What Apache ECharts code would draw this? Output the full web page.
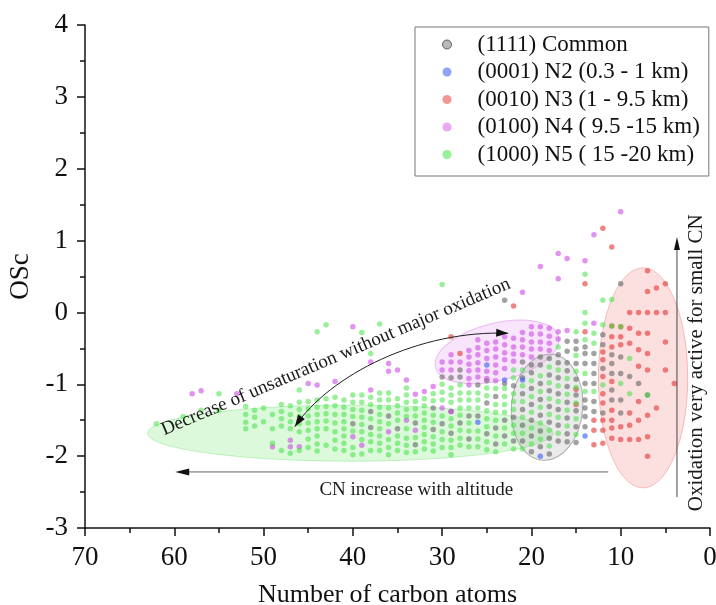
<!DOCTYPE html>
<html><head><meta charset="utf-8">
<script src="https://cdn.jsdelivr.net/npm/echarts@6/dist/echarts.min.js"></script>
<style>html,body{margin:0;padding:0;background:#fff}#c{width:716px;height:605px}</style>
</head><body><div id="c"></div>
<script>
const FONT = 'Liberation Serif';
const seriesNames = ['(1111) Common', '(0001) N2 (0.3 - 1 km)', '(0010) N3 (1 - 9.5 km)', '(0100) N4 ( 9.5 -15 km)', '(1000) N5 ( 15 -20 km)'];

// columns: [carbon number, [OSc values...]]
const commonCols = [
  [40, [-1.55]], [38, [-1.60, -1.38]], [36, [-1.44]], [35, [-1.62]], [33, [-1.54, -1.84]], [31, [-1.63, -1.33]],
  [30, [-0.90, -1.55]], [29, [-0.91, -1.38, -1.68]], [28, [-0.80, -0.90, -1.54]], [27, [-1.44, -1.76]],
  [26, [-1.01, -1.44]], [25, [-0.95, -1.26, -1.69]], [24, [-1.17, -1.61, -1.83]], [23, [0.17, -0.99, -1.50, -1.72]],
  [22, [-1.02, -1.46, -1.79]],
  [21, [-0.69, -0.91, -1.13, -1.35, -1.57, -1.79]],
  [20, [-0.73, -0.84, -1.06, -1.28, -1.50, -1.72, -1.94]],
  [19, [-0.62, -0.73, -0.99, -1.21, -1.43, -1.65, -1.87]],
  [18, [-0.64, -0.87, -1.09, -1.31, -1.53, -1.75, -1.97]],
  [17, [-0.59, -0.70, -0.91, -1.13, -1.35, -1.57, -1.79]],
  [16, [-0.40, -0.54, -0.70, -0.81, -1.03, -1.25, -1.47, -1.69, -1.80]],
  [15, [-0.40, -0.51, -0.71, -0.93, -1.15, -1.37, -1.59, -1.81]],
  [14, [-0.48, -0.57, -0.71, -0.99, -1.22, -1.33, -1.45, -1.59]],
  [13, [-0.57, -0.71, -0.85, -0.99, -1.24, -1.38]],
  [12, [-0.31, -0.45, -0.78, -1.40]],
  [11, [-0.59, -0.71, -0.85, -1.08, -1.22]],
  [10, [0.40, -0.62, -0.85, -1.22, -1.40]],
  [9, [-0.89]], [8, [-0.99]], [7, [-1.15]]
];
const n2Cols = [
  [25, [-0.73]], [23, [-0.94]], [21, [-0.94]], [26, [-1.53]], [19, [-2.00]], [14, [-1.72]]
];
const n3Cols = [
  [29, [-0.34]], [28, [-0.57]], [22, [0.09]], [15, [-1.07, -1.28]], [14, [0.40, -0.27]], [13, [-1.50, -1.64, -1.84]],
  [12, [1.17, -0.55, -0.66, -0.89, -1.13, -1.26, -1.50, -1.64, -1.82]],
  [11, [0.91, -0.19, -0.34, -0.48, -0.96, -1.36, -1.50, -1.61, -1.75]],
  [10, [-0.20, -0.34, -0.45, -1.59, -1.77]],
  [9, [0.00, -0.22, -0.43, -1.40, -1.57, -1.77]],
  [8, [0.00, -0.29, -0.52, -0.75, -1.24, -1.50, -1.77]],
  [7, [0.58, 0.29, 0.00, -0.29, -0.57, -0.80, -1.43, -1.73, -2.00]],
  [6, [0.34, 0.00, -1.33]],
  [5, [0.40, 0.00, -0.41, -0.80]],
  [4, [-0.99]]
];
const n4Cols = [
  [58, [-1.13]], [57, [-1.09]], [53, [-1.13]], [49, [-1.87]], [47, [-1.78, -1.87]], [46, [-1.87]],
  [45, [-0.99]], [44, [-1.01]], [42, [-0.96]], [40, [-0.20, -1.73]], [39, [-1.85]], [38, [-0.69, -1.08]],
  [36, [-0.71, -0.82, -1.66]], [35, [-0.80]], [34, [-0.94, -1.50]], [33, [-1.14, -1.64]], [32, [-1.10]], [31, [-1.03]],
  [30, [-0.69, -0.80, -1.33]],
  [29, [-0.59, -0.69, -0.80, -1.38]],
  [28, [-0.69]],
  [27, [-0.53, -0.62, -0.72, -0.81, -0.92, -1.01]],
  [26, [-0.38, -0.49, -0.59, -0.70, -0.80, -0.90]],
  [25, [-0.43, -0.53, -0.64, -0.82, -0.92]],
  [24, [-0.41, -0.51, -0.62, -0.73, -0.84, -0.95]],
  [23, [-0.34, -0.45, -0.56, -0.66, -0.78]],
  [22, [-0.36, -0.48, -0.58, -0.68]],
  [21, [0.28, -0.28, -0.38, -0.48, -0.59]],
  [20, [-0.20, -0.30, -0.41, -0.51, -0.62]],
  [19, [0.64, -0.20, -0.30, -0.41, -0.51]],
  [18, [-0.22, -0.33, -0.43, -0.53]],
  [17, [0.82, 0.47, -0.27, -0.37]],
  [16, [0.75, -0.25]],
  [14, [0.72]],
  [13, [1.08, -0.15]],
  [10, [1.40]]
];
const n5Cols = [
  [62, [-1.55]], [59, [-1.45]], [57, [-1.36]], [55, [-1.13, -1.36]],
  [52, [-1.31, -1.42, -1.53, -1.62]],
  [51, [-1.36, -1.46, -1.58]],
  [50, [-1.33, -1.52]],
  [49, [-1.42, -1.62, -1.82]],
  [48, [-1.28, -1.38, -1.48, -1.58, -1.92]],
  [47, [-1.30, -1.42, -1.52, -1.62, -1.96]],
  [46, [-1.08, -1.25, -1.35, -1.45, -1.55, -1.66, -1.92]],
  [45, [-1.24, -1.34, -1.44, -1.54, -1.64, -1.76, -1.88]],
  [44, [-0.27, -1.22, -1.32, -1.42, -1.52, -1.62, -1.72, -1.83, -1.93]],
  [43, [-0.17, -1.20, -1.31, -1.41, -1.51, -1.62, -1.85]],
  [42, [-1.18, -1.30, -1.42, -1.54, -1.66, -1.78, -1.90]],
  [41, [-1.22, -1.32, -1.42, -1.52, -1.62, -1.72, -1.82, -1.92]],
  [40, [-1.15, -1.25, -1.35, -1.45, -1.65, -1.88, -1.98]],
  [39, [-0.28, -1.15, -1.25, -1.36, -1.46, -1.56, -1.66, -1.77, -1.97]],
  [38, [-0.57, -1.18, -1.28, -1.48, -1.70, -1.80, -1.92]],
  [37, [-0.16, -1.12, -1.22, -1.32, -1.42, -1.52, -1.62, -1.72, -1.82, -1.92]],
  [36, [-1.12, -1.22, -1.33, -1.55, -1.77, -1.88, -1.98]],
  [35, [-1.20, -1.30, -1.40, -1.50, -1.72, -1.82, -1.92]],
  [34, [-1.05, -1.15, -1.25, -1.35, -1.45, -1.62, -1.75, -1.85, -1.95]],
  [33, [-1.24, -1.34, -1.44, -1.74, -1.94]],
  [32, [-1.20, -1.30, -1.40, -1.50, -1.60, -1.70, -1.80, -1.90]],
  [31, [-1.13, -1.23, -1.43, -1.53, -1.73, -1.83, -1.93]],
  [30, [0.39, -1.00, -1.11, -1.22, -1.44, -1.66, -1.77, -1.88]],
  [29, [-1.05, -1.15, -1.25, -1.48, -1.58, -1.78, -1.88, -1.98]],
  [28, [-1.01, -1.12, -1.22, -1.33, -1.43, -1.64, -1.75, -1.85]],
  [27, [-1.12, -1.22, -1.33, -1.54, -1.65, -1.87]],
  [26, [-1.12, -1.22, -1.33, -1.65, -1.76, -1.87]],
  [25, [-1.05, -1.16, -1.37, -1.48, -1.59, -1.80, -1.91]],
  [24, [-1.06, -1.28, -1.39, -1.50, -1.72, -1.94]],
  [23, [-1.06, -1.17, -1.28, -1.39, -1.61, -1.83]],
  [22, [-0.80, -0.91, -1.13, -1.24, -1.35, -1.57, -1.68, -1.90]],
  [21, [-0.80, -1.02, -1.24, -1.46, -1.68, -1.90]],
  [20, [-0.95, -1.17, -1.39, -1.61, -1.83]],
  [19, [-0.88, -1.10, -1.32, -1.54, -1.76]],
  [18, [-0.76, -0.98, -1.20, -1.42, -1.64, -1.86]],
  [17, [-0.48, -0.80, -1.02, -1.24, -1.46, -1.68]],
  [16, [-0.92, -1.14, -1.36, -1.58]],
  [15, [-0.27, -0.60, -0.82, -1.04, -1.26, -1.48, -1.70]],
  [14, [0.53, 0.00, -0.15, -0.38, -0.85, -1.10]],
  [13, [-0.29, -0.43, -1.10]],
  [12, [0.17, -0.17, -1.01]],
  [11, [0.18, -0.19]],
  [10, [-0.20, -0.99]],
  [9, [-0.64, -1.13]],
  [7, [-1.15]]
];

const pointColors = ['rgba(100,100,100,0.75)', 'rgba(60,95,250,0.78)', 'rgba(228,50,50,0.75)', 'rgba(205,75,228,0.75)', 'rgba(60,226,60,0.66)'];
const legendColors = ['#a8a8a8', 'rgba(80,110,250,0.8)', 'rgba(240,90,90,0.8)', 'rgba(220,120,235,0.8)', 'rgba(90,235,90,0.8)'];

// annotation shapes in data units: [centre CN, centre OSc], half-widths (CN, OSc), rotation (deg)
const ellipseDefs = [
  { c: [40.3, -1.68], r: [22.7, 0.39], rot: 0, fill: 'rgba(130,235,130,0.28)', stroke: 'rgba(110,220,110,0.35)' },
  { c: [23.85, -0.55], r: [7.1, 0.40], rot: 14, fill: 'rgba(232,170,242,0.30)', stroke: 'rgba(220,140,232,0.55)' },
  { c: [18.25, -1.32], r: [4.0, 0.74], rot: -5, fill: 'rgba(175,175,175,0.26)', stroke: 'rgba(130,130,130,0.6)' },
  { c: [7.5, -0.91], r: [5.0, 1.53], rot: 0, fill: 'rgba(245,160,160,0.33)', stroke: 'rgba(238,140,140,0.55)' }
];
const curveArrow = [[46.5, -1.59], [42.6, -0.87], [32.5, -0.24], [22.6, -0.29]];
const cnArrow = [[11.4, -2.22], [59.9, -2.22]];
const oxArrow = [[3.7, -2.57], [3.7, 1.05]];
const textNotes = [
  { text: 'Decrease of unsaturation without major oxidation', at: [41.9, -0.62], rot: 23, size: 19 },
  { text: 'CN increase with altitude', at: [32.9, -2.47], rot: 0, size: 19 },
  { text: 'Oxidation very active for small CN', at: [1.46, -0.70], rot: 90, size: 21 }
];

function expand(cols) {
  const out = [];
  cols.forEach(([cn, ys]) => ys.forEach(y => out.push([cn, y])));
  return out;
}
const allCols = [commonCols, n2Cols, n3Cols, n4Cols, n5Cols];

const axisCommon = {
  axisLine: { show: true, onZero: false, lineStyle: { color: '#111', width: 1.5 } },
  axisTick: { show: true, inside: false, length: 8, lineStyle: { color: '#111', width: 1.5 } },
  minorTick: { show: true, splitNumber: 2, length: 5, lineStyle: { color: '#111', width: 1.5 } },
  splitLine: { show: false }
};

const chart = echarts.init(document.getElementById('c'));
chart.setOption({
  animation: false,
  backgroundColor: '#fff',
  grid: { left: 85, right: 6, top: 25, bottom: 77, containLabel: false, outerBoundsMode: 'none' },
  xAxis: Object.assign({
    type: 'value', inverse: true, min: 0, max: 70, interval: 10, position: 'bottom',
    name: 'Number of carbon atoms', nameLocation: 'middle', nameGap: 54,
    nameTextStyle: { fontFamily: FONT, fontSize: 26, color: '#111', padding: [0, 20, 0, 0] },
    axisLabel: { fontFamily: FONT, fontSize: 27, color: '#111', margin: 16 }
  }, axisCommon),
  yAxis: Object.assign({
    type: 'value', min: -3, max: 4, interval: 1, position: 'left',
    name: 'OSc', nameLocation: 'middle', nameGap: 50,
    nameTextStyle: { fontFamily: FONT, fontSize: 27, color: '#111' },
    axisLabel: { fontFamily: FONT, fontSize: 27, color: '#111', margin: 17 }
  }, axisCommon),
  legend: {
    orient: 'vertical', left: 415, top: 27,
    backgroundColor: '#fff', borderColor: '#777', borderWidth: 1, borderRadius: 0,
    padding: [6, 9, 10, 27], itemGap: 4.5, itemWidth: 9, itemHeight: 9,
    icon: 'circle',
    textStyle: { fontFamily: FONT, fontSize: 23, color: '#111', lineHeight: 23, padding: [0, 0, 0, 21] },
    data: seriesNames.map((n, i) => ({
      name: n,
      itemStyle: i === 0 ? { color: legendColors[0], borderColor: '#444', borderWidth: 1 } : { color: legendColors[i], borderWidth: 0 }
    }))
  },
  series: seriesNames.map((n, i) => ({
    name: n, type: 'scatter', symbol: 'circle', symbolSize: 5.5,
    itemStyle: { color: pointColors[i] },
    data: expand(allCols[i]),
    z: 3 + i
  }))
});

function px(p) { return chart.convertToPixel({ gridIndex: 0 }, p); }
function head(tip, from, len, half, color) {
  const dx = tip[0] - from[0], dy = tip[1] - from[1];
  const d = Math.hypot(dx, dy) || 1;
  const ux = dx / d, uy = dy / d;
  const bx = tip[0] - ux * len, by = tip[1] - uy * len;
  return { type: 'polygon', z: 20, silent: true,
    shape: { points: [tip, [bx - uy * half, by + ux * half], [bx + uy * half, by - ux * half]] },
    style: { fill: color } };
}

const g = [];
ellipseDefs.forEach(e => {
  const c = px(e.c);
  const rx = Math.abs(px([e.c[0] + e.r[0], e.c[1]])[0] - c[0]);
  const ry = Math.abs(px([e.c[0], e.c[1] + e.r[1]])[1] - c[1]);
  g.push({ type: 'ellipse', x: c[0], y: c[1], rotation: e.rot * Math.PI / 180, z: 1, silent: true,
    shape: { cx: 0, cy: 0, rx: rx, ry: ry },
    style: { fill: e.fill, stroke: e.stroke, lineWidth: 1 } });
});

const cp = curveArrow.map(px);
g.push({ type: 'bezierCurve', z: 20, silent: true,
  shape: { x1: cp[0][0], y1: cp[0][1], cpx1: cp[1][0], cpy1: cp[1][1], cpx2: cp[2][0], cpy2: cp[2][1], x2: cp[3][0], y2: cp[3][1] },
  style: { stroke: '#222', lineWidth: 1, fill: null } });
g.push(head(cp[0], cp[1], 12, 4, '#111'));
g.push(head(cp[3], cp[2], 12, 4, '#111'));

const h = cnArrow.map(px);
g.push({ type: 'line', z: 20, silent: true, shape: { x1: h[0][0], y1: h[0][1], x2: h[1][0] + 8, y2: h[1][1] },
  style: { stroke: '#666', lineWidth: 1 } });
g.push(head(h[1], h[0], 14, 3.5, '#111'));

const v = oxArrow.map(px);
g.push({ type: 'line', z: 20, silent: true, shape: { x1: v[0][0], y1: v[0][1], x2: v[1][0], y2: v[1][1] + 8 },
  style: { stroke: '#444', lineWidth: 1 } });
g.push(head(v[1], v[0], 13, 3, '#111'));

textNotes.forEach(t => {
  const p = px(t.at);
  g.push({ type: 'text', x: p[0], y: p[1], rotation: t.rot * Math.PI / 180, z: 25, silent: true,
    style: { text: t.text, fontFamily: FONT, fontSize: t.size, fill: '#1a1a1a', align: 'center', verticalAlign: 'middle' } });
});

chart.setOption({ graphic: g });
</script>
</body></html>
